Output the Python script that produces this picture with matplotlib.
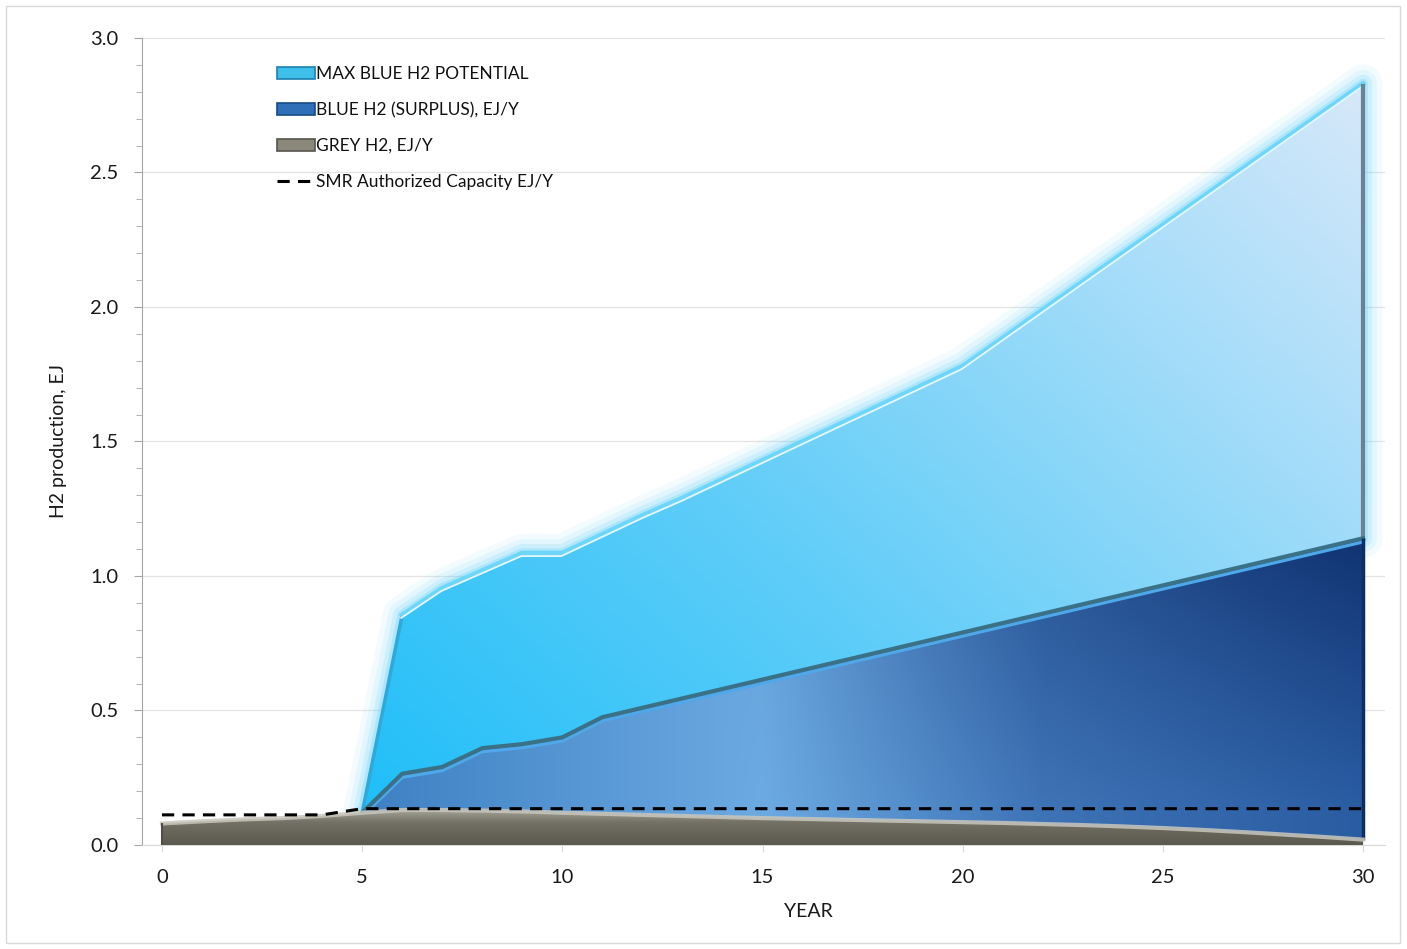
import numpy as np
import matplotlib.pyplot as plt
from matplotlib.patches import Patch, PathPatch, Rectangle
from matplotlib.lines import Line2D
from matplotlib import transforms

plt.rcParams['font.family'] = ['Lato', 'DejaVu Sans']

# --- data (EJ per year)
years = list(range(0, 31))
blue_years = list(range(5, 31))
max_blue = [0.12, 0.855, 0.955, 1.02, 1.085, 1.085, 1.155, 1.225, 1.29, 1.36,
            1.43, 1.50, 1.57, 1.64, 1.71, 1.78, 1.885, 1.99, 2.095, 2.20,
            2.305, 2.41, 2.515, 2.62, 2.725, 2.83]
blue_surplus = [0.12, 0.265, 0.29, 0.36, 0.375, 0.40, 0.475, 0.51, 0.545, 0.58,
                0.615, 0.65, 0.685, 0.72, 0.755, 0.79, 0.825, 0.86, 0.895, 0.93,
                0.965, 1.0, 1.035, 1.07, 1.105, 1.14]
grey_h2 = [0.08, 0.088, 0.095, 0.10, 0.108, 0.12, 0.13, 0.13, 0.128, 0.125,
           0.12, 0.116, 0.112, 0.108, 0.104, 0.10, 0.097, 0.094, 0.091, 0.088,
           0.085, 0.082, 0.078, 0.074, 0.069, 0.063, 0.056, 0.048, 0.039, 0.030,
           0.02]
smr_capacity = [0.112, 0.112, 0.112, 0.112, 0.112, 0.135, 0.135, 0.135, 0.135,
                0.135, 0.135, 0.135, 0.135, 0.135, 0.135, 0.135, 0.135, 0.135,
                0.135, 0.135, 0.135, 0.135, 0.135, 0.135, 0.135, 0.135, 0.135,
                0.135, 0.135, 0.135, 0.135]
labels = ['MAX BLUE H2 POTENTIAL', 'BLUE H2 (SURPLUS), EJ/Y', 'GREY H2, EJ/Y',
          'SMR Authorized Capacity EJ/Y']

XMIN, XMAX, YMAX = -0.5, 30.55, 3.0


def stops_rgb(t, stops):
    pos = [p for p, _ in stops]
    out = np.zeros(t.shape + (3,))
    for i in range(3):
        out[..., i] = np.interp(t, pos, [c[i] for _, c in stops])
    return out / 255.0


def max_colors(X, Y):
    t = np.clip(0.55 * (X - 5) / 25 + 0.45 * Y / 2.83, 0, 1)
    return stops_rgb(t, [(0, (28, 190, 248)), (0.4, (95, 205, 248)),
                         (1.0, (215, 232, 250))])


def blue_colors(X, Y):
    base = stops_rgb(X, [(5, (62, 128, 195)), (15, (108, 170, 226)),
                         (22, (62, 115, 182)), (30, (42, 92, 162))])
    w = 0.75 * np.clip((Y - 0.15) / 0.95, 0, 1) * np.clip((X - 14) / 16, 0, 1)
    navy = np.array([10, 40, 100]) / 255.0
    return base * (1 - w[..., None]) + navy * w[..., None]


def grey_colors(X, Y):
    t = np.clip(Y / 0.13, 0, 1)
    return stops_rgb(t, [(0, (92, 90, 80)), (0.6, (114, 111, 100)),
                         (1.0, (170, 167, 157))])


def gradient_area(ax, x, top, colfunc, z):
    poly = ax.fill_between(x, 0, top, facecolor='none', edgecolor='none', zorder=z)
    gx = np.linspace(XMIN, XMAX, 400)
    gy = np.linspace(0, YMAX, 300)
    GX, GY = np.meshgrid(gx, gy)
    im = ax.imshow(colfunc(GX, GY), extent=[XMIN, XMAX, 0, YMAX], origin='lower',
                   aspect='auto', interpolation='bilinear', zorder=z)
    im.set_clip_path(poly.get_paths()[0], transform=ax.transData)
    return poly


fig = plt.figure(figsize=(14.07, 9.49), dpi=100)
ax = fig.add_axes([0.1009, 0.1096, 0.8835, 0.8504])

fig.patches.append(Rectangle((0.004, 0.006), 0.991, 0.988, transform=fig.transFigure,
                             fill=False, edgecolor='#d9d9d9', lw=1))

# glow around max area
poly_max = ax.fill_between(blue_years, blue_surplus, max_blue, facecolor='none',
                           edgecolor='none')
for lw, a in [(28, 0.07), (20, 0.12), (13, 0.2), (7, 0.32)]:
    ax.add_patch(PathPatch(poly_max.get_paths()[0], fill=False, lw=lw,
                           edgecolor='#6fd3fa', alpha=a, zorder=1.5,
                           joinstyle='round'))

gradient_area(ax, blue_years, max_blue, max_colors, 2)
gradient_area(ax, blue_years, blue_surplus, blue_colors, 3)
gradient_area(ax, years, grey_h2, grey_colors, 4)

down = transforms.offset_copy(ax.transData, fig=fig, x=0, y=-3.5, units='dots')
down2 = transforms.offset_copy(ax.transData, fig=fig, x=-1, y=-3, units='dots')

# max area edges
ax.plot(blue_years[:2], max_blue[:2], color='#2fa9d9', lw=2.5, zorder=2.5,
        solid_capstyle='round')
ax.plot(blue_years[1:], max_blue[1:], color='#6fd6fb', lw=3.5, zorder=2.5,
        solid_joinstyle='round')
ax.plot(blue_years[1:], max_blue[1:], color='#e6f7ff', lw=1.3, zorder=2.6,
        transform=down2)
ax.vlines(blue_years[-1], blue_surplus[-1], max_blue[-1], color='#6c8294', lw=3,
          zorder=2.6)

# blue area edges
ax.plot(blue_years, blue_surplus, color='#3a7186', lw=3, zorder=3.5,
        solid_joinstyle='round')
ax.plot(blue_years, blue_surplus, color='#4ea8ea', lw=2.5, zorder=3.4,
        transform=down)
ax.vlines(blue_years[-1], grey_h2[-1], blue_surplus[-1], color='#0d2d66', lw=2.5,
          zorder=3.6)

# grey top highlight
ax.plot(years, grey_h2, color='#c9c6bc', lw=3, alpha=0.85, zorder=4.5)
ax.vlines(years[0], 0, grey_h2[0], color='#4f4d46', lw=1.5, zorder=4.5)

# SMR capacity
ax.plot(years, smr_capacity, color='black', lw=2.2, dashes=(4, 2.7), zorder=6)

ax.set_xlim(XMIN, XMAX)
ax.set_ylim(0, YMAX)
ax.set_xticks([0, 5, 10, 15, 20, 25, 30])
ax.set_yticks([0, 0.5, 1.0, 1.5, 2.0, 2.5, 3.0])
ax.set_yticks(np.arange(0, 3.01, 0.1), minor=True)
ax.yaxis.set_major_formatter(plt.FormatStrFormatter('%.1f'))
ax.grid(axis='y', color='#e3e3e3', lw=0.9, zorder=0)
ax.set_axisbelow(True)
for s in ['top', 'right']:
    ax.spines[s].set_visible(False)
ax.spines['left'].set_color('#a6a6a6')
ax.spines['bottom'].set_color('#d9d9d9')
ax.tick_params(axis='y', which='major', length=6, color='#a6a6a6', pad=11,
               labelsize=14.5, labelcolor='#1a1a1a')
ax.tick_params(axis='y', which='minor', length=4, color='#a6a6a6')
ax.tick_params(axis='x', which='major', length=5, color='#d9d9d9', pad=12,
               labelsize=14.5, labelcolor='#1a1a1a')
ax.set_xlabel('YEAR', fontsize=14, color='#1a1a1a')
ax.xaxis.set_label_coords(0.536, -0.072)
ax.set_ylabel('H2 production, EJ', fontsize=14, color='#1a1a1a')
ax.yaxis.set_label_coords(-0.06, 0.5)

handles = [Patch(facecolor='#3dbfe9', edgecolor='#1e7fae', lw=1.2),
           Patch(facecolor='#2f6fb8', edgecolor='#174a86', lw=1.2),
           Patch(facecolor='#8a877b', edgecolor='#57554d', lw=1.2),
           Line2D([], [], color='black', lw=2.2, dashes=(4, 2.7))]
leg = ax.legend(handles, labels, loc='upper left', bbox_to_anchor=(0.103, 0.974),
                frameon=False, fontsize=12.5, handlelength=2.2, handleheight=0.7,
                handletextpad=0.05, labelspacing=1.15, borderaxespad=0)
for t in leg.get_texts():
    t.set_color('#111111')

fig.savefig('out.png', dpi=100)
